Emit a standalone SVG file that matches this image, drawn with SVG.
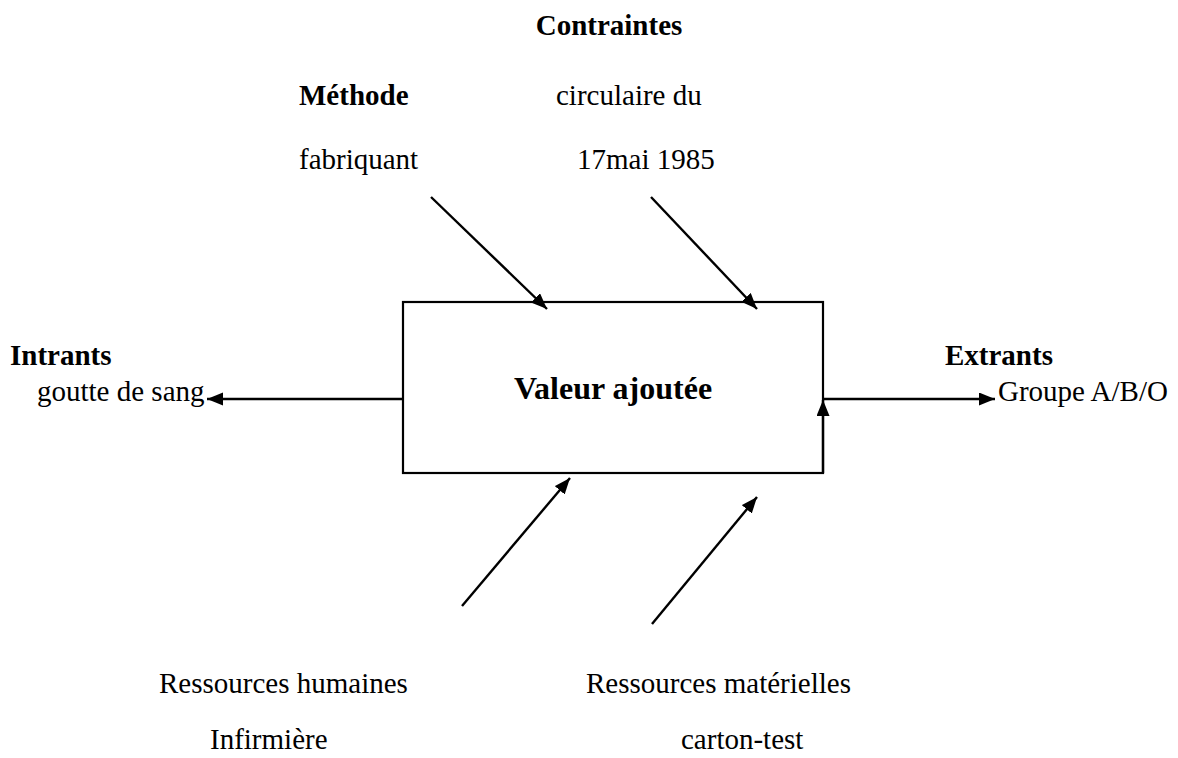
<svg xmlns="http://www.w3.org/2000/svg" width="1178" height="758" viewBox="0 0 1178 758">
<defs>
<style>
text{font-family:"Liberation Serif","Times New Roman",serif;font-size:29px;fill:#000}
.b{font-weight:bold}
.big{font-size:32px;font-weight:bold}
.ln{stroke:#000;stroke-width:2.4;fill:none;marker-end:url(#ah)}
</style>
<marker id="ah" markerUnits="userSpaceOnUse" markerWidth="18" markerHeight="14" refX="16" refY="6.5" orient="auto">
<path d="M0,0 L16,6.5 L0,13 z" fill="#000"/>
</marker>
</defs>
<rect width="1178" height="758" fill="#fff"/>
<g id="box">
<rect x="403" y="302" width="420" height="171" fill="none" stroke="#000" stroke-width="2.2"/>
<text class="big" x="613" y="399" text-anchor="middle">Valeur ajoutée</text>
</g>
<g id="contraintes">
<text class="b" x="609" y="35" text-anchor="middle">Contraintes</text>
<text x="556" y="105">circulaire du</text>
<text x="577" y="169">17mai 1985</text>
</g>
<g id="methode">
<text class="b" x="299" y="105">Méthode</text>
<text x="299" y="169">fabriquant</text>
</g>
<g id="intrants">
<text class="b" x="10" y="365">Intrants</text>
<text x="37" y="401">goutte de sang</text>
</g>
<g id="extrants">
<text class="b" x="945" y="365">Extrants</text>
<text x="998" y="401">Groupe A/B/O</text>
</g>
<g id="rh">
<text x="159" y="693">Ressources humaines</text>
<text x="210" y="749">Infirmière</text>
</g>
<g id="rm">
<text x="586" y="693">Ressources matérielles</text>
<text x="681" y="749">carton-test</text>
</g>
<g id="connectors">
<line class="ln" x1="431" y1="197" x2="547" y2="309"/>
<line class="ln" x1="651" y1="197" x2="757" y2="309"/>
<line class="ln" x1="462" y1="606" x2="570" y2="478"/>
<line class="ln" x1="652" y1="624" x2="757" y2="497"/>
<line class="ln" x1="403" y1="399" x2="207" y2="399"/>
<line class="ln" x1="823" y1="399" x2="995" y2="399"/>
<line class="ln" x1="823" y1="473" x2="823" y2="400"/>
</g>
</svg>
